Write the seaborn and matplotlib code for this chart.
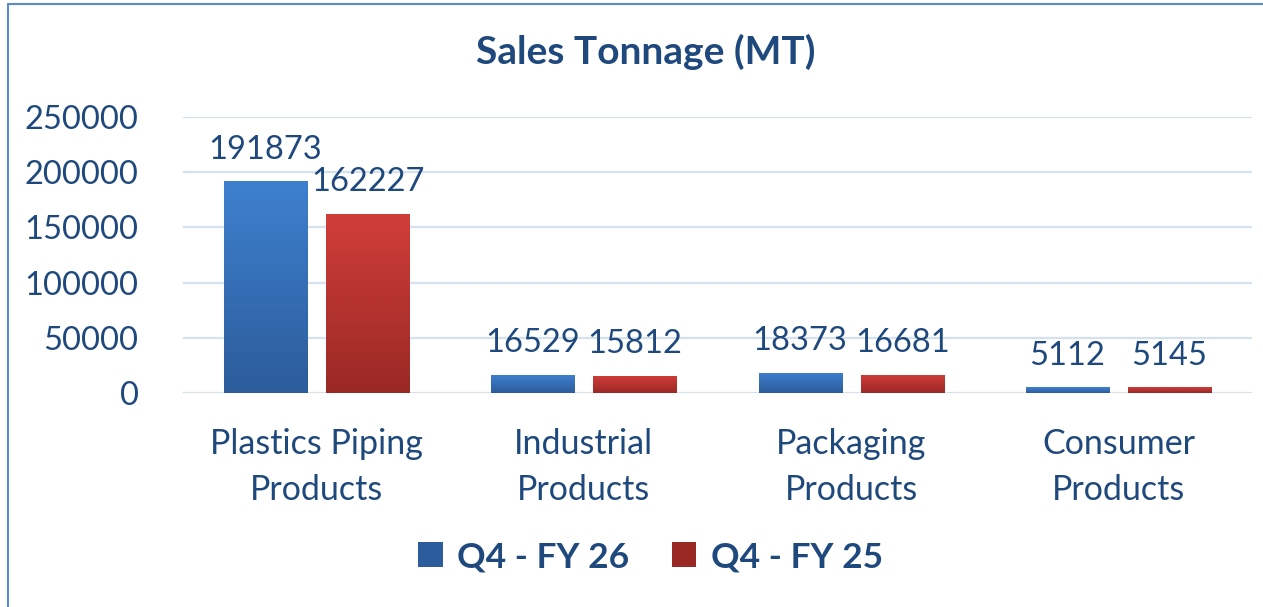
import numpy as np
import pandas as pd
import matplotlib
matplotlib.use("Agg")
import matplotlib.pyplot as plt
import seaborn as sns
from matplotlib.colors import LinearSegmentedColormap
from matplotlib.patches import Patch
from matplotlib.lines import Line2D

# data
categories = ["Plastics Piping\nProducts", "Industrial\nProducts",
              "Packaging\nProducts", "Consumer\nProducts"]
series = ["Q4 - FY 26", "Q4 - FY 25"]
fy26_values = [191873, 16529, 18373, 5112]
fy25_values = [162227, 15812, 16681, 5145]
y_ticks = [0, 50000, 100000, 150000, 200000, 250000]

TEXT = "#1F497D"
GRID = "#D6E1EF"
# (top, bottom) of each bar gradient
GRADS = {"Q4 - FY 26": ("#3E80CF", "#2C5C9B"),
         "Q4 - FY 25": ("#D13D39", "#9A2926")}

df = pd.DataFrame({
    "category": categories * 2,
    "series": [series[0]] * 4 + [series[1]] * 4,
    "value": fy26_values + fy25_values,
})

sns.set_style("white")
plt.rcParams["font.family"] = ["Lato", "DejaVu Sans"]

fig = plt.figure(figsize=(12.63, 6.07), dpi=100)
ax = fig.add_axes([0.1449, 0.3526, 0.8464, 0.4546])

sns.barplot(data=df, x="category", y="value", hue="series",
            hue_order=series, order=categories, width=0.764, gap=0.186,
            palette=[GRADS[s][0] for s in series], legend=False, ax=ax,
            zorder=2)

# gradient fill on every bar, plus label above it
for cont, name in zip(ax.containers, series):
    cmap = LinearSegmentedColormap.from_list(name, [GRADS[name][1], GRADS[name][0]])
    for p in cont.patches:
        x0, w, h = p.get_x(), p.get_width(), p.get_height()
        grad = np.linspace(0, 1, 256).reshape(-1, 1)
        im = ax.imshow(grad, extent=(x0, x0 + w, 0, h), origin="lower",
                       aspect="auto", cmap=cmap, zorder=3)
        im.set_clip_path(p)
    ax.bar_label(cont, labels=[f"{v:.0f}" for v in cont.datavalues],
                 padding=12, fontsize=23.5, color=TEXT, zorder=4)

ax.set_ylim(0, 250000)
ax.set_xlim(-0.5, 3.5)

ax.set_yticks(y_ticks)
ax.set_yticklabels([str(t) for t in y_ticks])
ax.yaxis.grid(True, color=GRID, linewidth=1.6, zorder=0)
ax.set_axisbelow(True)
sns.despine(ax=ax, left=True, bottom=True)
ax.tick_params(axis="y", length=0, pad=32, labelsize=23.5, labelcolor=TEXT)
ax.tick_params(axis="x", length=0, pad=25, labelsize=24.5, labelcolor=TEXT)
for lbl in ax.get_xticklabels():
    lbl.set_linespacing(1.55)
ax.set_xlabel("")
ax.set_ylabel("")

fig.text(0.511, 0.914, "Sales Tonnage (MT)", ha="center", va="center",
         fontsize=28, fontweight="bold", color=TEXT)

handles = [Patch(facecolor=GRADS[s][1], edgecolor="none") for s in series]
leg = fig.legend(handles, series, loc="center", bbox_to_anchor=(0.515, 0.082),
                 ncol=2, frameon=False, handlelength=0.7, handleheight=0.7,
                 handletextpad=0.4, columnspacing=1.2,
                 prop={"size": 25.5, "weight": "bold"})
for t in leg.get_texts():
    t.set_color(TEXT)

# outer chart border (left and top edges visible)
fig.add_artist(Line2D([8 / 1263, 8 / 1263], [0, 1 - 4 / 607],
                      transform=fig.transFigure, color="#5B8BC9", linewidth=1.5))
fig.add_artist(Line2D([8 / 1263, 1], [1 - 4 / 607, 1 - 4 / 607],
                      transform=fig.transFigure, color="#5B8BC9", linewidth=1.5))

fig.savefig("out.png", dpi=100)
